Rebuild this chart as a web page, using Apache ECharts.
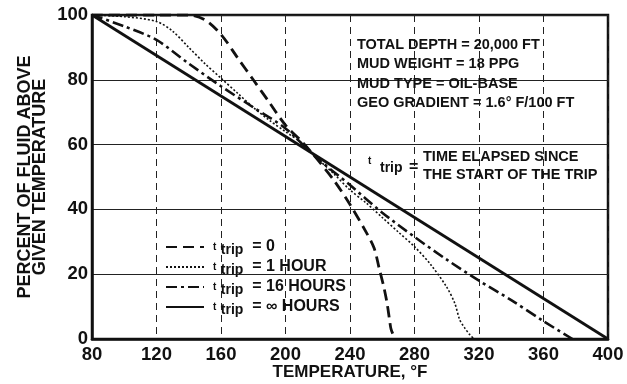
<!DOCTYPE html>
<html>
<head>
<meta charset="utf-8">
<script src="https://cdn.jsdelivr.net/npm/echarts@6/dist/echarts.min.js"></script>
<style>html,body{margin:0;padding:0;background:#fff}#c{width:627px;height:384px}</style>
</head>
<body>
<div id="c"></div>
<script>
// Tick labels
const xTicks = [80, 120, 160, 200, 240, 280, 320, 360, 400];
const yTicks = [0, 20, 40, 60, 80, 100];

// t_trip = 0 (dashed)
const t0Temp = [80, 120, 140, 150, 160, 170, 180, 190, 200, 210, 218, 230, 240, 250, 255, 258, 261, 263, 264.5, 265.5, 268];
const t0Pct  = [100, 100, 100, 98.5, 94, 87, 80, 73, 66, 61, 56.5, 49, 41.5, 33, 28, 22, 16, 11, 6, 3, 0];

// t_trip = 1 hour (dotted)
const t1Temp = [80, 100, 120, 130, 140, 150, 160, 170, 180, 190, 200, 210, 218, 230, 240, 250, 260, 270, 280, 290, 300, 305, 308, 311, 314, 317];
const t1Pct  = [100, 99.5, 98, 95, 90, 85, 80.5, 76, 71.5, 67.5, 64, 60.5, 56.5, 51, 46, 42, 37.5, 33, 28.5, 23, 16, 11, 6, 3.5, 1.5, 0];

// t_trip = 16 hours (dash-dot)
const t16Temp = [80, 100, 120, 140, 160, 180, 200, 218, 240, 260, 280, 300, 320, 340, 360, 378];
const t16Pct  = [100, 96.5, 92.3, 85, 78, 71.5, 65, 56.5, 47.5, 39, 31.5, 24.5, 18, 12, 5.5, 0];

// t_trip = infinity hours (solid)
const tInfTemp = [80, 400];
const tInfPct  = [100, 0];

const seriesNames = ['0', '1 HOUR', '16 HOURS', '\u221E HOURS'];

function pairs(xs, ys) { return xs.map((x, i) => [x, ys[i]]); }

const FONT = 'Liberation Sans';
const chart = echarts.init(document.getElementById('c'), null, {renderer: 'canvas'});

const lineCommon = {type: 'line', showSymbol: false, symbol: 'none', smooth: 0.3, z: 5, itemStyle: {color: '#111'}};

const subRich = {
  t: {fontSize: 10, fontWeight: 'bold', fontFamily: FONT, verticalAlign: 'middle', lineHeight: 20, color: '#111', padding: [0, 0, 0, 4]},
  s: {fontSize: 14, fontWeight: 'bold', fontFamily: FONT, verticalAlign: 'bottom', lineHeight: 10, color: '#111'},
  e: {fontSize: 16, fontWeight: 'bold', fontFamily: FONT, verticalAlign: 'middle', lineHeight: 20, color: '#111'}
};

chart.setOption({
  animation: false,
  backgroundColor: '#fff',
  grid: {left: 92, right: 19, top: 15, bottom: 45, outerBoundsMode: 'none', containLabel: false,
    show: true, borderColor: '#111', borderWidth: 2.5, backgroundColor: 'transparent'},
  xAxis: {
    type: 'value', min: 80, max: 400, interval: 40,
    axisLine: {lineStyle: {color: '#111', width: 2.5}},
    axisTick: {show: false},
    axisLabel: {color: '#111', fontFamily: FONT, fontWeight: 'bold', fontSize: 18.5, margin: 6,
      formatter: v => xTicks.includes(v) ? String(v) : ''},
    splitLine: {show: true, lineStyle: {color: '#222', width: 1, type: [7, 5]}},
    name: 'TEMPERATURE, \u00B0F', nameLocation: 'middle', nameGap: 25, nameMoveOverlap: false,
    nameTextStyle: {color: '#111', fontFamily: FONT, fontWeight: 'bold', fontSize: 17}
  },
  yAxis: {
    type: 'value', min: 0, max: 100, interval: 20,
    axisLine: {show: true, lineStyle: {color: '#111', width: 2.5}},
    axisTick: {show: false},
    axisLabel: {color: '#111', fontFamily: FONT, fontWeight: 'bold', fontSize: 18.5, margin: 4,
      formatter: v => yTicks.includes(v) ? String(v) : ''},
    splitLine: {show: true, lineStyle: {color: '#222', width: 1.2}},
    name: 'PERCENT OF FLUID ABOVE\nGIVEN TEMPERATURE', nameLocation: 'middle', nameGap: 44, nameRotate: 90, nameMoveOverlap: false,
    nameTextStyle: {color: '#111', fontFamily: FONT, fontWeight: 'bold', fontSize: 18, lineHeight: 15}
  },
  legend: {
    orient: 'vertical', left: 160, top: 234, itemWidth: 38, itemHeight: 12, itemGap: 2,
    itemStyle: {opacity: 0},
    data: seriesNames,
    formatter: name => '{t|t} {s|trip} {e| = ' + name + '}',
    textStyle: {color: '#111', fontFamily: FONT, fontWeight: 'bold', fontSize: 16, rich: subRich}
  },
  series: [
    Object.assign({}, lineCommon, {name: seriesNames[0], data: pairs(t0Temp, t0Pct),
      lineStyle: {color: '#111', width: 2.8, type: [11, 6]}}),
    Object.assign({}, lineCommon, {name: seriesNames[1], data: pairs(t1Temp, t1Pct),
      lineStyle: {color: '#111', width: 1.6, type: [2, 2]}}),
    Object.assign({}, lineCommon, {name: seriesNames[2], data: pairs(t16Temp, t16Pct),
      lineStyle: {color: '#111', width: 2.6, type: [11, 4, 3, 4]}}),
    Object.assign({}, lineCommon, {name: seriesNames[3], data: pairs(tInfTemp, tInfPct), smooth: false,
      lineStyle: {color: '#111', width: 2.8, type: 'solid'}})
  ],
  graphic: [
    {type: 'text', left: 357, top: 35, z: 10,
      style: {text: 'TOTAL DEPTH = 20,000 FT\nMUD WEIGHT = 18 PPG\nMUD TYPE = OIL-BASE\nGEO GRADIENT = 1.6\u00B0 F/100 FT',
        fill: '#111', font: 'bold 14.5px "Liberation Sans"', lineHeight: 19.5}},
    {type: 'text', left: 368, top: 156, z: 10,
      style: {text: 't', fill: '#111', font: 'bold 10px "Liberation Sans"'}},
    {type: 'text', left: 380, top: 161, z: 10,
      style: {text: 'trip', fill: '#111', font: 'bold 14px "Liberation Sans"'}},
    {type: 'text', left: 409, top: 160, z: 10,
      style: {text: '=', fill: '#111', font: 'bold 16px "Liberation Sans"'}},
    {type: 'text', left: 423, top: 148, z: 10,
      style: {text: 'TIME ELAPSED SINCE\nTHE START OF THE TRIP', fill: '#111',
        font: 'bold 14.5px "Liberation Sans"', lineHeight: 18}}
  ]
});
</script>
</body>
</html>
